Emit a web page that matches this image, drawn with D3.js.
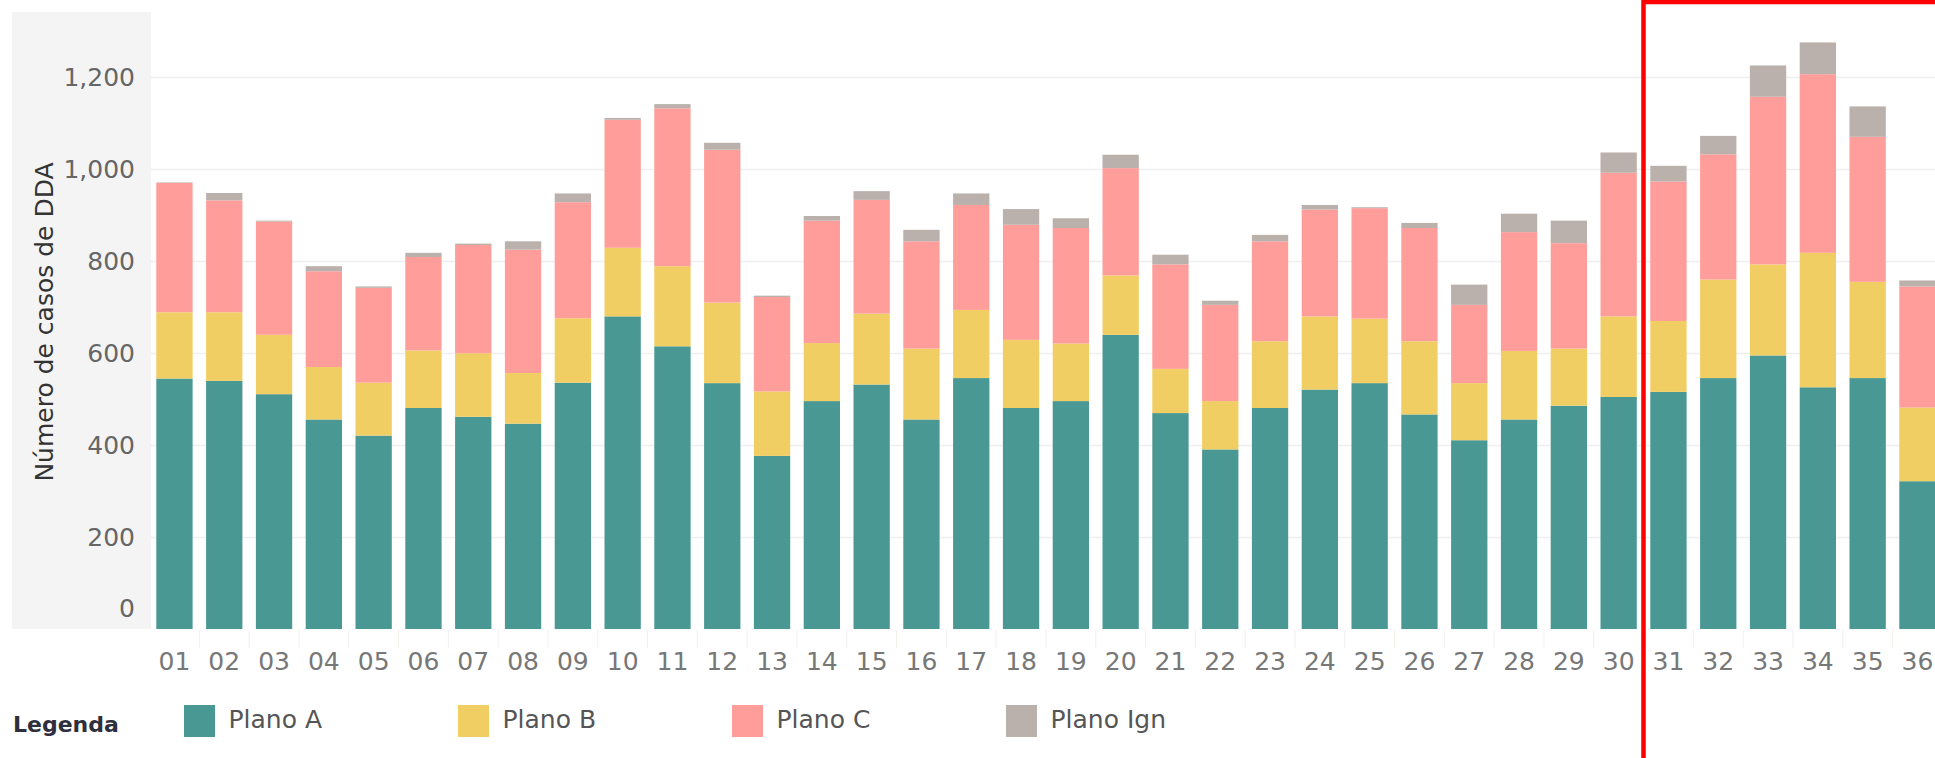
<!DOCTYPE html>
<html lang="pt">
<head>
<meta charset="utf-8">
<script src="https://cdn.jsdelivr.net/npm/d3@7"></script>
<style>
  html, body { margin: 0; padding: 0; background: #ffffff; }
  svg { display: block; }
  text { font-family: "DejaVu Sans", "Open Sans", sans-serif; }
</style>
</head>
<body>
<svg id="chart" width="1935" height="758"></svg>
<script>
// Semanas epidemiológicas
const weeks = ["01","02","03","04","05","06","07","08","09","10","11","12",
               "13","14","15","16","17","18","19","20","21","22","23","24",
               "25","26","27","28","29","30","31","32","33","34","35","36"];

// Casos de DDA por plano de tratamento
const planoA   = [544,539,510,455,420,480,461,446,535,679,614,534,376,495,531,455,545,480,
                  495,639,469,390,480,520,534,466,410,455,485,504,515,545,594,525,545,321];
const planoB   = [144,149,129,114,115,125,138,110,140,149,174,175,140,126,154,154,148,148,
                  125,129, 96,105,145,159,140,159,124,149,124,175,154,214,198,292,209,160];
const planoC   = [281,243,246,208,206,203,235,268,252,278,343,332,205,266,247,233,228,250,
                  251,233,227,209,217,232,240,246,170,258,229,312,303,272,364,388,315,263];
const planoIgn = [  1, 16,  2, 11,  3,  9,  3, 18, 19,  4,  9, 15,  3, 10, 19, 25, 25, 34,
                   21, 29, 21,  9, 14, 10,  2, 11, 44, 40, 49, 44, 34, 40, 68, 69, 66, 13];

const seriesNames  = ["Plano A", "Plano B", "Plano C", "Plano Ign"];
const seriesColors = ["#499894", "#F1CE63", "#FF9D9A", "#BAB0AC"];
const yTicks = [0, 200, 400, 600, 800, 1000, 1200];

const svg = d3.select("#chart");

// rows for the stack layout
const rows = weeks.map((w, i) => ({
  week: w,
  "Plano A": planoA[i],
  "Plano B": planoB[i],
  "Plano C": planoC[i],
  "Plano Ign": planoIgn[i]
}));
const stacked = d3.stack().keys(seriesNames)(rows);

// scales
const pad = 0.271;
const step = 49.8;
const x0 = 149.55;
const x = d3.scaleBand()
  .domain(weeks)
  .range([x0, x0 + step * weeks.length])
  .paddingInner(pad)
  .paddingOuter(pad / 2);

const y = d3.scaleLinear().domain([0, 1200]).range([629, 76.5]);
const color = d3.scaleOrdinal().domain(seriesNames).range(seriesColors);

// axis pane background
svg.append("rect")
  .attr("x", 12).attr("y", 12)
  .attr("width", 139).attr("height", 617)
  .attr("fill", "#f4f4f4");

// horizontal gridlines
svg.append("g")
  .selectAll("line")
  .data(yTicks.filter(d => d > 0))
  .join("line")
  .attr("x1", 151).attr("x2", 1935)
  .attr("y1", d => Math.round(y(d)) + 0.5)
  .attr("y2", d => Math.round(y(d)) + 0.5)
  .attr("stroke", "#efefef")
  .attr("stroke-width", 1.5);

// faint header dividers under the bars
svg.append("g")
  .selectAll("line")
  .data(weeks.slice(1))
  .join("line")
  .attr("x1", d => x(d) - (x.step() - x.bandwidth()) / 2)
  .attr("x2", d => x(d) - (x.step() - x.bandwidth()) / 2)
  .attr("y1", 630).attr("y2", 648)
  .attr("stroke", "#f3f0ec")
  .attr("stroke-width", 1);

// stacked bars
svg.append("g")
  .selectAll("g")
  .data(stacked)
  .join("g")
  .attr("fill", d => color(d.key))
  .selectAll("rect")
  .data(d => d)
  .join("rect")
  .attr("x", d => x(d.data.week))
  .attr("width", x.bandwidth())
  .attr("y", d => y(d[1]))
  .attr("height", d => y(d[0]) - y(d[1]));

// y axis labels
const yAxis = d3.axisLeft(y)
  .tickValues(yTicks)
  .tickFormat(d3.format(","))
  .tickSize(0)
  .tickPadding(0);
const gy = svg.append("g")
  .attr("transform", "translate(135,0)")
  .call(yAxis);
gy.select(".domain").remove();
gy.selectAll(".tick text")
  .attr("fill", "#666")
  .attr("font-size", 25)
  .attr("font-family", "DejaVu Sans, sans-serif")
  .attr("dy", "0.36em");
// bottom label sits inside the pane
gy.selectAll(".tick")
  .filter(d => d === 0)
  .attr("transform", "translate(0,608)");

// y axis title
svg.append("text")
  .attr("transform", "translate(53,322) rotate(-90)")
  .attr("text-anchor", "middle")
  .attr("fill", "#333")
  .attr("font-size", 25)
  .text("Número de casos de DDA");

// x axis labels
const xAxis = d3.axisBottom(x).tickSize(0).tickPadding(0);
const gx = svg.append("g")
  .attr("transform", "translate(0,661)")
  .call(xAxis);
gx.select(".domain").remove();
gx.selectAll(".tick text")
  .attr("fill", "#777")
  .attr("font-size", 25)
  .attr("font-family", "DejaVu Sans, sans-serif")
  .attr("dy", "0.36em");

// legend
const legend = svg.append("g");
legend.append("text")
  .attr("x", 13).attr("y", 732)
  .attr("fill", "#2e2e3d")
  .attr("font-size", 22)
  .attr("font-weight", "bold")
  .text("Legenda");

const legendX = d3.scaleOrdinal().domain(seriesNames).range([184, 458, 732, 1006]);
const items = legend.selectAll("g.item")
  .data(seriesNames)
  .join("g")
  .attr("class", "item")
  .attr("transform", d => `translate(${legendX(d)},705)`);
items.append("rect")
  .attr("width", 31).attr("height", 32)
  .attr("fill", d => color(d));
items.append("text")
  .attr("x", 44.5).attr("y", 23)
  .attr("fill", "#555")
  .attr("font-size", 25)
  .text(d => d);

// highlight frame around the latest weeks
svg.append("rect")
  .attr("x", 1643.5).attr("y", 2)
  .attr("width", 400).attr("height", 800)
  .attr("fill", "none")
  .attr("stroke", "#ff0000")
  .attr("stroke-width", 4.5);
</script>
</body>
</html>
